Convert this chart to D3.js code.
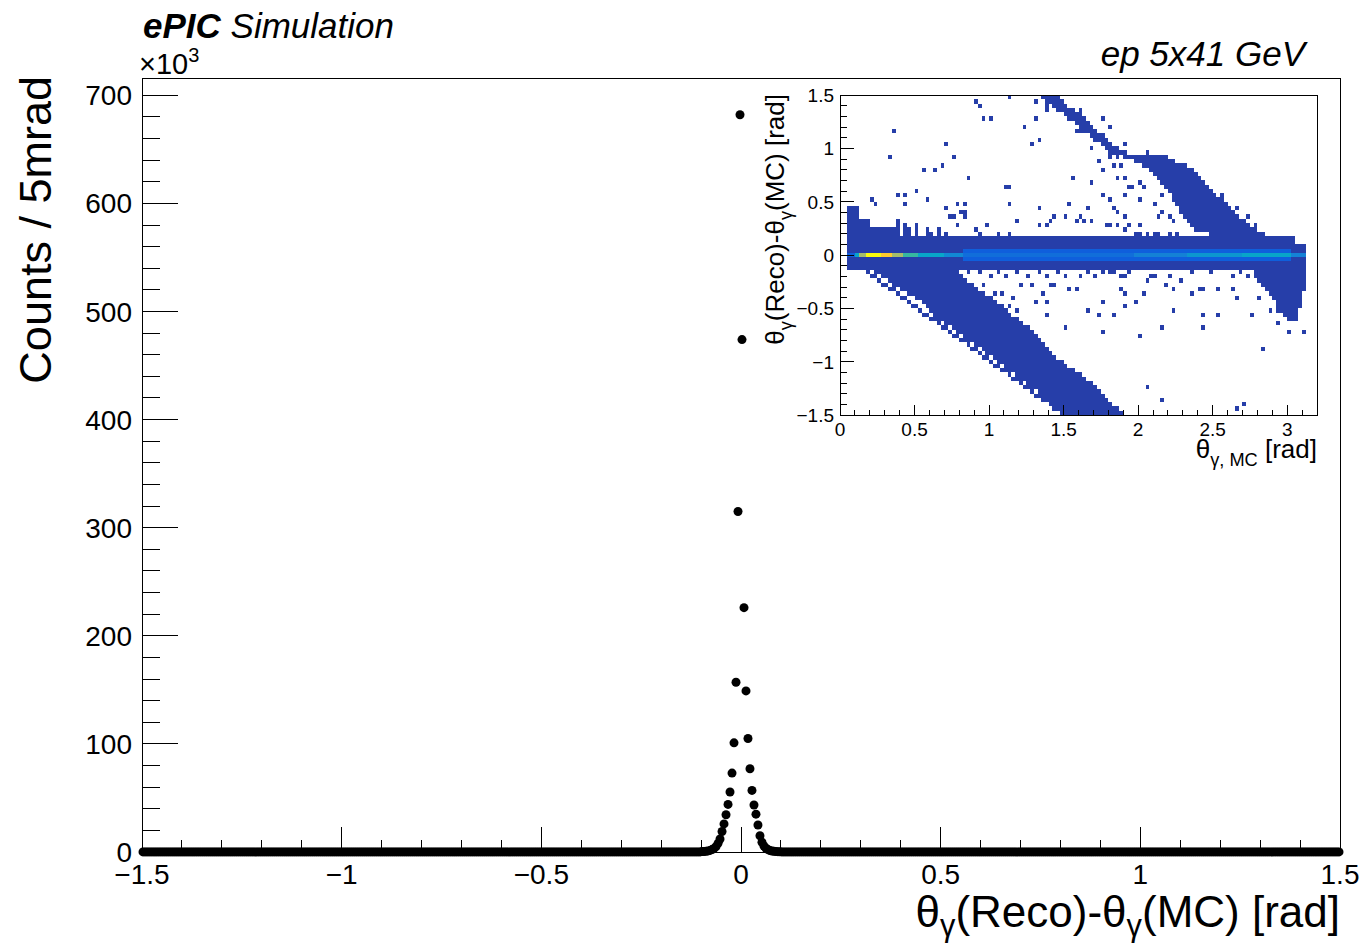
<!DOCTYPE html>
<html>
<head>
<meta charset="utf-8">
<script src="https://cdn.jsdelivr.net/npm/d3@7"></script>
<style>
  body { margin: 0; background: #fff; }
  svg { display: block; font-family: "Liberation Sans", Arial, Helvetica, sans-serif; }
</style>
</head>
<body>
<script>
// ---- main histogram: counts (x1000) per 5 mrad bin ----
const binWidth = 0.005;
// bins at -0.0025, -0.0075, ... going left from 0
const peakLeft = [682, 315, 157, 101, 73, 55.5, 44, 34.5, 26, 19, 12, 8, 5, 3.3, 2.2, 1.5, 1.0, 0.7, 0.5, 0.4];
// bins at +0.0025, +0.0075, ... going right from 0
const peakRight = [474, 226, 149, 105, 77, 57, 43.5, 35, 25, 15, 9, 5.5, 3.5, 2.2, 1.4, 0.9, 0.6, 0.4, 0.3, 0.25];
const tailCount = 0.1; // every bin beyond |0.1| rad reads as ~0
const xTicksMain = [-1.5, -1, -0.5, 0, 0.5, 1, 1.5];
const yTicksMain = [0, 100, 200, 300, 400, 500, 600, 700];

// ---- inset 2D histogram (theta_MC vs residual) ----
// dense regions, in data coords [thetaMC, residual]
const centralBand = [[0.06, -0.125], [0.06, 0.18], [3.05, 0.18], [3.05, 0.12], [3.13, 0.12], [3.13, -0.125]];
const leftFringe = [[0.06, 0.18], [0.06, 0.44], [0.135, 0.44], [0.135, 0.35], [0.21, 0.35], [0.21, 0.28],
  [0.27, 0.28], [0.27, 0.25], [0.40, 0.25], [0.40, 0.18]];
const lowerBand = [[0.13, -0.10], [0.77, -0.10], [0.88, -0.27], [1.04, -0.42], [1.17, -0.58], [1.31, -0.73],
  [1.40, -0.89], [1.53, -1.05], [1.71, -1.2], [1.80, -1.36], [1.91, -1.5], [1.48, -1.5], [1.40, -1.36],
  [1.24, -1.2], [1.11, -1.05], [0.95, -0.89], [0.79, -0.73], [0.64, -0.58], [0.525, -0.42], [0.35, -0.27], [0.19, -0.14]];
const lowerEdgeLine = [[0.067, -0.04], [1.51, -1.5]];
const upperBand = [[1.38, 1.5], [1.45, 1.5], [1.55, 1.38], [1.68, 1.24], [1.78, 1.10], [1.88, 0.98], [1.96, 0.935],
  [2.19, 0.92], [2.36, 0.81], [2.43, 0.72], [2.48, 0.62], [2.54, 0.53], [2.63, 0.44], [2.70, 0.34], [2.79, 0.25],
  [2.88, 0.18], [2.55, 0.18], [2.40, 0.22], [2.30, 0.35], [2.24, 0.50], [2.20, 0.62], [2.12, 0.72], [2.06, 0.81],
  [1.97, 0.88], [1.90, 0.92], [1.82, 0.95], [1.72, 1.06], [1.60, 1.20], [1.47, 1.34], [1.36, 1.47], [1.34, 1.5]];
const rightCluster = [[2.76, -0.12], [3.13, -0.12], [3.12, -0.3], [3.09, -0.5], [3.07, -0.62], [3.01, -0.62],
  [2.92, -0.45], [2.85, -0.32], [2.78, -0.22]];
// isolated filled cells
const scatterCells = [
  [0.906, 1.453], [0.928, 1.406], [1.129, 1.469], [1.308, 1.453], [1.375, 1.375], [1.395, 1.406], [1.308, 1.297],
  [0.973, 1.297], [1.006, 1.297], [1.230, 1.209], [0.364, 1.166], [0.704, 1.053], [1.286, 1.053], [1.342, 1.094],
  [0.342, 0.928], [0.767, 0.928], [0.682, 0.844], [0.649, 0.806], [0.570, 0.806], [0.868, 0.728], [1.565, 0.728],
  [1.107, 0.647], [1.14, 0.647], [0.503, 0.603], [0.387, 0.563], [0.436, 0.563], [0.208, 0.531], [0.246, 0.491],
  [0.447, 0.491], [0.593, 0.531], [0.783, 0.491], [0.827, 0.491], [1.129, 0.491], [1.543, 0.491], [0.704, 0.447],
  [1.342, 0.447], [0.727, 0.366], [0.76, 0.366], [0.805, 0.406], [0.839, 0.406], [0.827, 0.359], [1.185, 0.328],
  [1.442, 0.366], [1.521, 0.366], [1.42, 0.328], [1.331, 0.281], [1.387, 0.281], [0.783, 0.281], [0.984, 0.266],
  [0.906, 0.25], [0.928, 0.219], [1.051, 0.209], [1.14, 0.209],
  [0.38, 0.33], [0.38, 0.29], [0.38, 0.25], [0.38, 0.21], [0.43, 0.29], [0.43, 0.25], [0.43, 0.21], [0.47, 0.25],
  [0.47, 0.21], [0.52, 0.29], [0.52, 0.25], [0.52, 0.21], [0.58, 0.25], [0.58, 0.21], [0.62, 0.21], [0.66, 0.25],
  [0.66, 0.21], [0.72, 0.21],
  [1.766, 1.297], [1.80, 1.219], [1.621, 1.172], [1.689, 1.172], [1.923, 1.047], [1.689, 1.016], [2.058, 0.969],
  [1.823, 0.938], [1.867, 0.938], [1.923, 0.938], [1.729, 0.884], [1.766, 0.813], [1.677, 0.697], [1.867, 0.728],
  [1.907, 0.728], [2.001, 0.697], [1.934, 0.641], [1.968, 0.641], [2.046, 0.641], [1.923, 0.563], [1.766, 0.553],
  [1.807, 0.531], [2.024, 0.531], [2.113, 0.491], [2.169, 0.563], [1.666, 0.447], [1.845, 0.438], [1.856, 0.406],
  [1.912, 0.366], [1.621, 0.366], [1.632, 0.322], [1.689, 0.322], [1.588, 0.322], [1.789, 0.281], [1.823, 0.281],
  [1.867, 0.281], [1.901, 0.25], [1.946, 0.281], [2.024, 0.281], [2.147, 0.359], [2.169, 0.406], [2.203, 0.366],
  [2.225, 0.322], [1.979, 0.209], [2.013, 0.209], [2.058, 0.209], [2.102, 0.209], [2.147, 0.209], [2.22, 0.2],
  [2.26, 0.2], [2.561, 0.547], [2.561, 0.516], [2.672, 0.438], [2.739, 0.359], [2.795, 0.266], [2.918, 0.125],
  [2.985, 0.078], [2.616, 0.45], [1.621, 1.359],
  [1.48, 1.44], [1.52, 1.31], [1.60, 1.30], [1.70, 1.13], [1.76, 1.03], [1.58, 1.16], [1.90, 0.86], [1.84, 0.86],
  [1.610, -0.1875], [1.666, -0.172], [1.711, -0.1875], [1.767, -0.172], [1.800, -0.172], [1.845, -0.172],
  [1.878, -0.1875], [1.923, -0.1875], [1.946, -0.156], [2.057, -0.25], [2.091, -0.1875], [2.124, -0.203],
  [2.192, -0.281], [2.214, -0.1875], [2.236, -0.3125], [2.292, -0.234], [2.359, -0.375], [2.370, -0.156],
  [2.415, -0.3125], [2.449, -0.3125], [2.493, -0.156], [2.549, -0.3125], [2.628, -0.1875], [2.650, -0.328],
  [2.672, -0.39], [2.695, -0.172], [2.739, -0.203], [2.806, -0.39], [2.829, -0.266], [2.885, -0.516],
  [2.930, -0.516], [3.008, -0.563], [3.064, -0.609], [3.008, -0.719], [3.108, -0.719], [2.930, -0.641],
  [1.666, -0.516], [1.745, -0.563], [1.845, -0.563], [1.767, -0.422], [1.923, -0.344], [1.990, -0.4375],
  [1.923, -0.484], [2.046, -0.359], [2.247, -0.516], [2.449, -0.563], [2.527, -0.563], [2.773, -0.563],
  [2.169, -0.678], [2.426, -0.678], [1.767, -0.719], [2.001, -0.759], [2.829, -0.884], [2.057, -1.234],
  [2.169, -1.359], [2.706, -1.406], [2.672, -1.447], [1.878, -0.328],
  [0.705, -0.156], [0.794, -0.172], [0.816, -0.203], [0.928, -0.172], [0.962, -0.266], [1.040, -0.359],
  [1.085, -0.359], [1.163, -0.39], [1.219, -0.266], [1.286, -0.266], [1.308, -0.422], [1.364, -0.359],
  [1.42, -0.266], [1.387, -0.4375], [1.185, -0.531], [1.129, -0.469], [1.387, -0.547], [1.521, -0.672],
  [1.532, -0.3125], [1.577, -0.3125], [1.442, -0.281],
  [0.86, -0.16], [1.0, -0.19], [1.06, -0.16], [1.12, -0.19], [1.2, -0.16], [1.26, -0.19], [1.33, -0.16],
  [1.38, -0.2], [1.46, -0.16], [1.52, -0.19]
];
// counts along the residual = 0 row: [from, to, count]
const zeroRow = [[0.06, 0.10, 2], [0.10, 0.135, 14], [0.135, 0.17, 150], [0.17, 0.28, 2000], [0.28, 0.34, 800],
  [0.34, 0.42, 150], [0.42, 0.53, 40], [0.53, 0.70, 14], [0.70, 0.82, 6], [0.82, 1.98, 3], [1.98, 2.32, 5],
  [2.32, 2.70, 9], [2.70, 3.03, 14], [3.03, 3.13, 5]];
// counts in the rows just above/below zero
const nearZeroRows = [[0.82, 3.03, 2]];
const insetXTicks = [0, 0.5, 1, 1.5, 2, 2.5, 3];
const insetYTicks = [-1.5, -1, -0.5, 0, 0.5, 1, 1.5];

const W = 1365, H = 944;
const svg = d3.select("body").append("svg").attr("width", W).attr("height", H);
svg.append("rect").attr("width", W).attr("height", H).attr("fill", "#fff");

const fmt = v => (v < 0 ? "\u2212" : "") + String(Math.abs(v));

function addRich(sel, parts, size, shift) {
  let sub = false;
  parts.forEach(([t, s]) => {
    const ts = sel.append("tspan").text(t);
    if (s) ts.attr("font-size", size * 0.7);
    if (s && !sub) ts.attr("dy", size * shift);
    if (!s && sub) ts.attr("dy", -size * shift);
    sub = s;
  });
}

// ---------- main plot ----------
const x = d3.scaleLinear().domain([-1.5, 1.5]).range([142, 1340]);
const y = d3.scaleLinear().domain([0, 716]).range([852, 78]);

const bins = d3.range(600).map(i => {
  const c = -1.5 + (i + 0.5) * binWidth;
  const k = Math.round((Math.abs(c) - binWidth / 2) / binWidth);
  const arr = c < 0 ? peakLeft : peakRight;
  return { x: c, v: k < arr.length ? arr[k] : tailCount };
});

const axes = svg.append("g").attr("stroke", "#000").attr("stroke-width", 1).attr("shape-rendering", "crispEdges");
// x ticks
d3.range(-1.5, 1.5001, 0.1).forEach(v => {
  const major = xTicksMain.some(t => Math.abs(t - v) < 1e-6);
  axes.append("line").attr("x1", x(v)).attr("x2", x(v)).attr("y1", 852).attr("y2", 852 - (major ? 25 : 12));
});
// y ticks
d3.range(0, 716, 20).forEach(v => {
  const major = v % 100 === 0;
  axes.append("line").attr("x1", 142).attr("x2", 142 + (major ? 36 : 18)).attr("y1", y(v)).attr("y2", y(v));
});
axes.append("rect").attr("x", 142).attr("y", 78).attr("width", 1198).attr("height", 774).attr("fill", "none");

svg.append("g").selectAll("text").data(xTicksMain).join("text")
  .attr("x", d => x(d)).attr("y", 884).attr("text-anchor", "middle").attr("font-size", 28).text(fmt);
svg.append("g").selectAll("text").data(yTicksMain).join("text")
  .attr("x", 132).attr("y", d => y(d)).attr("dy", "0.36em").attr("text-anchor", "end").attr("font-size", 28).text(d => d);

const e3 = svg.append("text").attr("x", 139).attr("y", 74).attr("font-size", 29);
e3.append("tspan").text("\u00d710");
e3.append("tspan").text("3").attr("font-size", 20).attr("dy", -12);

svg.append("g").selectAll("circle").data(bins).join("circle")
  .attr("cx", d => x(d.x)).attr("cy", d => y(d.v)).attr("r", 4.5).attr("fill", "#000");

// axis titles
svg.append("text").attr("transform", "translate(51,76) rotate(-90)").attr("text-anchor", "end")
  .attr("font-size", 45).text("Counts / 5mrad");
const xt = svg.append("text").attr("x", 1340).attr("y", 927).attr("text-anchor", "end").attr("font-size", 44);
addRich(xt, [["\u03b8", false], ["\u03b3", true], ["(Reco)-\u03b8", false], ["\u03b3", true], ["(MC) [rad]", false]], 44, 0.2);

// labels
const t1 = svg.append("text").attr("x", 143).attr("y", 38).attr("font-size", 35).attr("font-style", "italic");
t1.append("tspan").attr("font-weight", "bold").text("ePIC");
t1.append("tspan").text(" Simulation");
svg.append("text").attr("x", 1305).attr("y", 66).attr("text-anchor", "end").attr("font-size", 35)
  .attr("font-style", "italic").text("ep 5x41 GeV");

// ---------- inset ----------
const ix = d3.scaleLinear().domain([0, 3.2]).range([840, 1317]);
const iy = d3.scaleLinear().domain([-1.5, 1.5]).range([415, 95]);
const nx = 128, ny = 75, dxb = 3.2 / nx, dyb = 3 / ny;
const j0 = Math.floor(1.5 / dyb);
const cells = new Map();
const put = (i, j, c) => {
  if (i < 0 || i >= nx || j < 0 || j >= ny) return;
  const k = i + "," + j;
  cells.set(k, Math.max(cells.get(k) || 0, c));
};
const regions = [centralBand, leftFringe, lowerBand, upperBand, rightCluster];
for (let i = 0; i < nx; i++) {
  for (let j = 0; j < ny; j++) {
    const p = [(i + 0.5) * dxb, -1.5 + (j + 0.5) * dyb];
    if (regions.some(r => d3.polygonContains(r, p))) put(i, j, 1);
  }
}
// thin diagonal edge
{
  const [[ax, ay], [bx, by]] = lowerEdgeLine;
  for (let i = Math.floor(ax / dxb); i <= Math.floor(bx / dxb); i++) {
    const cx = (i + 0.5) * dxb;
    const cy = ay + (by - ay) * (cx - ax) / (bx - ax);
    put(i, Math.floor((cy + 1.5) / dyb), 1);
  }
}
scatterCells.forEach(([a, b]) => put(Math.floor(a / dxb), Math.floor((b + 1.5) / dyb), 1));
zeroRow.forEach(([a, b, c]) => {
  for (let i = 0; i < nx; i++) {
    const cx = (i + 0.5) * dxb;
    if (cx >= a && cx < b) put(i, j0, c);
  }
});
nearZeroRows.forEach(([a, b, c]) => {
  for (let i = 0; i < nx; i++) {
    const cx = (i + 0.5) * dxb;
    if (cx >= a && cx < b) { put(i, j0 + 1, c); put(i, j0 - 1, c); }
  }
});

const bird = d3.piecewise(d3.interpolateRgb, ["rgb(53,42,135)", "rgb(15,92,221)", "rgb(20,129,214)",
  "rgb(6,164,202)", "rgb(46,183,164)", "rgb(135,191,119)", "rgb(209,187,89)", "rgb(254,200,50)", "rgb(249,251,14)"]);
const zMax = 2000;
const color = c => bird(Math.min(1, 0.05 + 0.95 * Math.log(c) / Math.log(zMax)));

const cellData = Array.from(cells, ([k, c]) => {
  const [i, j] = k.split(",").map(Number);
  return { i, j, c };
});
svg.append("g").attr("shape-rendering", "crispEdges").selectAll("rect").data(cellData).join("rect")
  .attr("x", d => ix(d.i * dxb)).attr("width", d => ix((d.i + 1) * dxb) - ix(d.i * dxb))
  .attr("y", d => iy(-1.5 + (d.j + 1) * dyb)).attr("height", d => iy(-1.5 + d.j * dyb) - iy(-1.5 + (d.j + 1) * dyb))
  .attr("fill", d => color(d.c));

const iaxes = svg.append("g").attr("stroke", "#000").attr("stroke-width", 1).attr("shape-rendering", "crispEdges");
d3.range(0, 3.2001, 0.1).forEach(v => {
  const major = insetXTicks.some(t => Math.abs(t - v) < 1e-6);
  iaxes.append("line").attr("x1", ix(v)).attr("x2", ix(v)).attr("y1", 415).attr("y2", 415 - (major ? 10 : 5));
});
d3.range(-1.5, 1.5001, 0.1).forEach(v => {
  const major = insetYTicks.some(t => Math.abs(t - v) < 1e-6);
  iaxes.append("line").attr("x1", 840).attr("x2", 840 + (major ? 14 : 7)).attr("y1", iy(v)).attr("y2", iy(v));
});
iaxes.append("rect").attr("x", 840).attr("y", 95).attr("width", 477).attr("height", 320).attr("fill", "none");

svg.append("g").selectAll("text").data(insetXTicks).join("text")
  .attr("x", d => ix(d)).attr("y", 436).attr("text-anchor", "middle").attr("font-size", 19).text(fmt);
svg.append("g").selectAll("text").data(insetYTicks).join("text")
  .attr("x", 834).attr("y", d => iy(d)).attr("dy", "0.36em").attr("text-anchor", "end").attr("font-size", 19).text(fmt);

const iyt = svg.append("text").attr("transform", "translate(784,94) rotate(-90)").attr("text-anchor", "end").attr("font-size", 26);
addRich(iyt, [["\u03b8", false], ["\u03b3", true], ["(Reco)-\u03b8", false], ["\u03b3", true], ["(MC) [rad]", false]], 26, 0.3);
const ixt = svg.append("text").attr("x", 1317).attr("y", 458).attr("text-anchor", "end").attr("font-size", 26);
addRich(ixt, [["\u03b8", false], ["\u03b3, MC", true], [" [rad]", false]], 26, 0.3);
</script>
</body>
</html>
